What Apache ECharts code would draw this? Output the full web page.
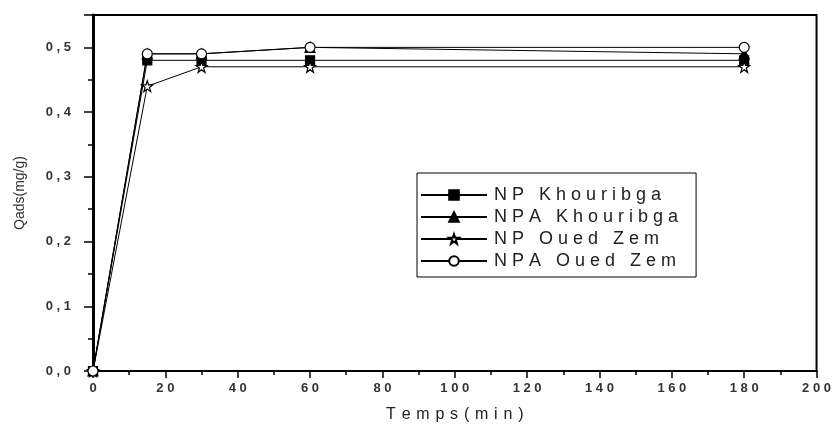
<!DOCTYPE html>
<html>
<head>
<meta charset="utf-8">
<script src="https://cdn.jsdelivr.net/npm/echarts@6/dist/echarts.min.js"></script>
<style>
  html, body { margin: 0; padding: 0; background: #fff; }
  #chart { width: 834px; height: 428px; }
</style>
</head>
<body>
<div id="chart"></div>
<script>
// Adsorption kinetics: adsorbed quantity versus contact time
const times = [0, 15, 30, 60, 180];
const npKhouribga = [0, 0.48, 0.48, 0.48, 0.48];
const npaKhouribga = [0, 0.49, 0.49, 0.50, 0.49];
const npOuedZem = [0, 0.44, 0.47, 0.47, 0.47];
const npaOuedZem = [0, 0.49, 0.49, 0.50, 0.50];
const seriesNames = ['NP Khouribga', 'NPA Khouribga', 'NP Oued Zem', 'NPA Oued Zem'];
const xTitle = 'Temps(min)';
const yTitle = 'Qads(mg/g)';

const FONT = 'Liberation Sans, Arial, sans-serif';
// widened character spacing used throughout the figure text
const spaced = (s, sep) => s.split('').join(sep);

const starPath = 'path://M50,0 L61.8,35.1 L98.9,35.1 L68.9,56.7 L80.3,91.9 L50,70.2 L19.7,91.9 L31.1,56.7 L1.1,35.1 L38.2,35.1 Z';

function pairs(ys) { return times.map((t, i) => [t, ys[i]]); }

const styles = [
  { symbol: 'rect', size: 9, fill: '#000' },
  { symbol: 'triangle', size: 10, fill: '#000' },
  { symbol: starPath, size: 11, fill: '#fff' },
  { symbol: 'circle', size: 10, fill: '#fff' }
];
const values = [npKhouribga, npaKhouribga, npOuedZem, npaOuedZem];

const chart = echarts.init(document.getElementById('chart'), null, { renderer: 'canvas' });
chart.setOption({
  animation: false,
  backgroundColor: '#fff',
  grid: { left: 93, right: 12, top: 15, bottom: 53, show: true, borderColor: '#000', borderWidth: 2 },
  legend: {
    data: seriesNames,
    orient: 'vertical',
    left: 417, top: 173,
    padding: [13, 18, 7, 3],
    borderColor: '#000', borderWidth: 1,
    itemWidth: 66, itemHeight: 12, itemGap: 4,
    textStyle: { fontFamily: FONT, fontSize: 18, color: '#222', padding: [0, 0, 0, 2] },
    formatter: name => spaced(name, ' ')
  },
  xAxis: {
    type: 'value', min: 0, max: 200, interval: 20,
    name: spaced(xTitle, ' \u200a'), nameLocation: 'middle', nameGap: 36,
    nameTextStyle: { fontFamily: FONT, fontSize: 16, color: '#222' },
    axisLine: { onZero: false, lineStyle: { color: '#000', width: 2 } },
    axisTick: { length: 7, lineStyle: { color: '#000', width: 1.5 } },
    minorTick: { show: true, splitNumber: 2, length: 4, lineStyle: { color: '#000', width: 1.5 } },
    axisLabel: { margin: 11, fontFamily: FONT, fontSize: 13, fontWeight: 'bold', color: '#333',
      formatter: v => spaced(String(v), ' ') },
    splitLine: { show: false }
  },
  yAxis: {
    type: 'value', min: 0, max: 0.55, interval: 0.1,
    name: yTitle, nameLocation: 'middle', nameGap: 66,
    nameTextStyle: { fontFamily: FONT, fontSize: 14, color: '#333' },
    axisLine: { onZero: false, lineStyle: { color: '#000', width: 3 } },
    axisTick: { length: 9, lineStyle: { color: '#000', width: 1.5 } },
    minorTick: { show: true, splitNumber: 2, length: 5, lineStyle: { color: '#000', width: 1.5 } },
    axisLabel: { margin: 22, fontFamily: FONT, fontSize: 13, fontWeight: 'bold', color: '#333',
      showMaxLabel: false,
      formatter: v => spaced(v.toFixed(1).replace('.', ','), ' ') },
    splitLine: { show: false }
  },
  series: seriesNames.map((name, i) => ({
    name,
    type: 'line',
    data: pairs(values[i]),
    symbol: styles[i].symbol,
    symbolSize: styles[i].size,
    showAllSymbol: true,
    lineStyle: { color: '#000', width: 1 },
    itemStyle: { color: styles[i].fill, borderColor: '#000', borderWidth: 1.2 },
    emphasis: { disabled: true }
  }))
});
</script>
</body>
</html>
